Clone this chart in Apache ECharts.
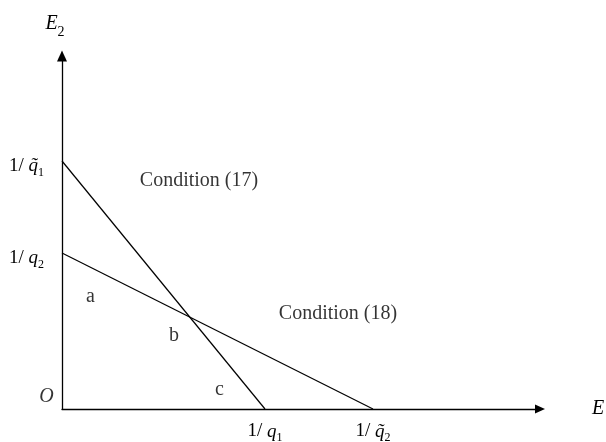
<!DOCTYPE html>
<html><head><meta charset="utf-8">
<script src="https://cdn.jsdelivr.net/npm/echarts@6/dist/echarts.min.js"></script>
<style>html,body{margin:0;padding:0;background:#fff}#c{width:606px;height:442px}</style>
</head><body><div id="c"></div>
<script>
// Axis extents (arbitrary units)
const xMax = 4.78;
const yMax = 3.53;
// Tick positions and labels
const xTicks = [2.03, 3.11];
const xTickLabels = ['{n|1/ }{q|q}{s|1}', '{n|1/ }{q|q\u0303}{s|2}'];
const yTicks = [1.56, 2.48];
const yTickLabels = ['{n|1/ }{q|q}{s|2}', '{n|1/ }{q|q\u0303}{s|1}'];
// Lines: intercepts on E2 axis and E axis
const condition17 = [[0, 2.48], [2.03, 0]];
const condition18 = [[0, 1.56], [3.11, 0]];
// Text annotations in data coordinates
const annotationTexts = ['Condition (17)', 'Condition (18)', 'a', 'b', 'c', 'O'];
const annotationPoints = [[1.37, 2.28], [2.76, 0.95], [0.285, 1.12], [1.12, 0.735], [1.575, 0.19], [-0.155, 0.12]];
const italicTexts = ['O'];

const FONT = 'Liberation Serif';
const tickRich = {
  n: {fontFamily: FONT, fontSize: 19, color: '#000', lineHeight: 22, verticalAlign: 'top'},
  q: {fontFamily: FONT, fontSize: 19, fontStyle: 'italic', color: '#000', lineHeight: 22, verticalAlign: 'top'},
  s: {fontFamily: FONT, fontSize: 12, color: '#000', lineHeight: 12, verticalAlign: 'bottom'}
};
function pick(ticks, labels) {
  return function (v) {
    let best = 0, d = Infinity;
    ticks.forEach((t, i) => { const dd = Math.abs(t - v); if (dd < d) { d = dd; best = i; } });
    return d < 1e-6 ? labels[best] : '';
  };
}

const chart = echarts.init(document.getElementById('c'), null, {renderer: 'canvas'});
chart.setOption({
  animation: false,
  backgroundColor: '#fff',
  grid: {left: 62, top: 56, width: 478, height: 353, containLabel: false, outerBoundsMode: 'none'},
  xAxis: {
    type: 'value', min: 0, max: xMax,
    name: 'E', nameLocation: 'end', nameGap: 52,
    nameTextStyle: {fontFamily: FONT, fontSize: 20, fontStyle: 'italic', color: '#000', padding: [0, 0, 18, 0]},
    axisLine: {show: true, symbol: ['none', 'triangle'], symbolSize: [9, 10], lineStyle: {color: '#000', width: 1.3}},
    axisTick: {show: false},
    splitLine: {show: false},
    axisLabel: {show: true, customValues: xTicks, formatter: pick(xTicks, xTickLabels), margin: 13, rich: tickRich}
  },
  yAxis: {
    type: 'value', min: 0, max: yMax,
    name: '{e|E}{s|2}', nameLocation: 'end', nameGap: 17,
    nameTextStyle: {
      padding: [0, 14, 0, 0],
      rich: {
        e: {fontFamily: FONT, fontSize: 20, fontStyle: 'italic', color: '#000', lineHeight: 25, verticalAlign: 'top'},
        s: {fontFamily: FONT, fontSize: 14, color: '#000', lineHeight: 14, verticalAlign: 'bottom'}
      }
    },
    axisLine: {show: true, symbol: ['none', 'triangle'], symbolSize: [10, 11], lineStyle: {color: '#000', width: 1.3}},
    axisTick: {show: false},
    splitLine: {show: false},
    axisLabel: {show: true, customValues: yTicks, formatter: pick(yTicks, yTickLabels), margin: 18, padding: [13, 0, 0, 0], rich: tickRich}
  },
  series: [
    {type: 'line', data: condition17, symbol: 'none', silent: true, lineStyle: {color: '#000', width: 1.2}},
    {type: 'line', data: condition18, symbol: 'none', silent: true, lineStyle: {color: '#000', width: 1.2}},
    {
      type: 'scatter', symbolSize: 0, silent: true, clip: false,
      data: annotationTexts.map((t, i) => ({
        name: t, value: annotationPoints[i],
        label: {fontStyle: italicTexts.includes(t) ? 'italic' : 'normal'}
      })),
      label: {show: true, position: 'inside', formatter: p => p.name, fontFamily: FONT, fontSize: 20, color: '#000'}
    }
  ]
});
</script>
</body></html>
